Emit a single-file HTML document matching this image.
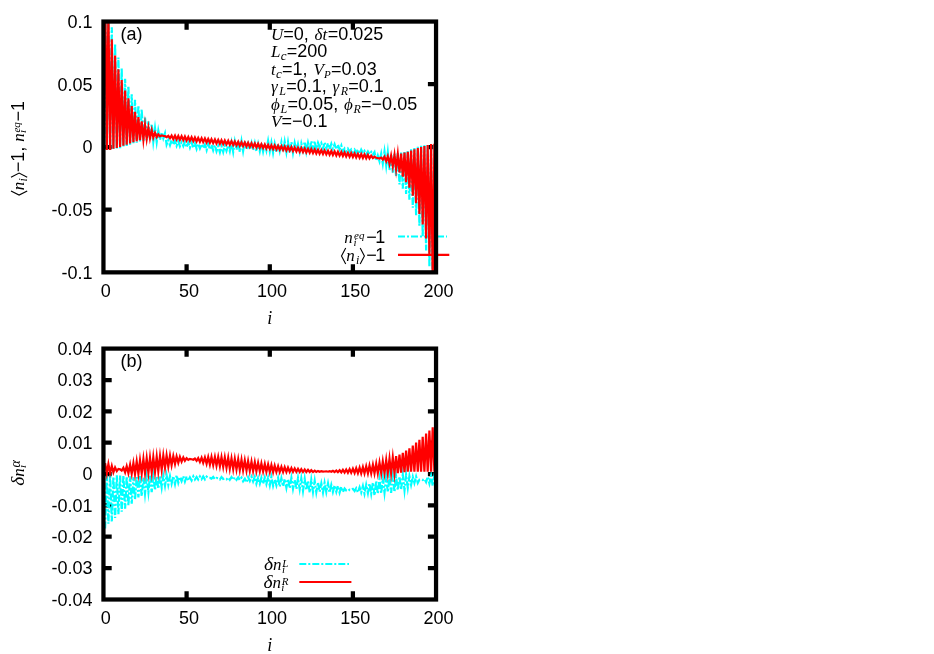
<!DOCTYPE html>
<html><head><meta charset="utf-8"><title>plot</title>
<style>
html,body{margin:0;padding:0;background:#fff;}
body{width:934px;height:654px;overflow:hidden;}
svg{display:block;will-change:transform;}
text{font-family:"Liberation Sans",sans-serif;font-size:18.0px;fill:#000;font-kerning:none;}
.i{font-family:"Liberation Serif",serif;font-style:italic;}
.c{fill:none;stroke-width:2.2;stroke-linejoin:miter;stroke-miterlimit:10;}
.k{fill:none;stroke:#000;stroke-width:4.25;}
.b{fill:none;stroke:#000;stroke-width:1.1;stroke-linejoin:miter;}
</style></head><body>
<svg width="934" height="654" viewBox="0 0 934 654">
<rect x="0" y="0" width="934" height="654" fill="#fff"/>
<defs>
<clipPath id="ca"><rect x="103.45" y="21.55" width="332.6" height="250.8"/></clipPath>
<clipPath id="cb"><rect x="103.45" y="348.6" width="332.6" height="250.85000000000002"/></clipPath>
</defs>
<path class="k" d="M186.6,272.35V264.2M186.6,21.55V29.8M269.8,272.35V264.2M269.8,21.55V29.8M352.9,272.35V264.2M352.9,21.55V29.8M103.45,84.2H111.7M436.05,84.2H427.9M103.45,147.0H111.7M436.05,147.0H427.9M103.45,209.7H111.7M436.05,209.7H427.9"/>
<polyline clip-path="url(#ca)" class="c" points="105.1,-16.1 106.8,149.1 108.4,-0.4 110.1,149.5 111.8,27.3 113.4,149.0 115.1,43.5 116.8,148.6 118.4,57.4 120.1,148.2 121.7,68.1 123.4,147.1 125.1,78.7 126.7,145.9 128.4,86.3 130.1,144.7 131.7,94.2 133.4,143.3 135.0,99.9 136.7,142.6 138.4,105.4 140.0,141.4 141.7,109.4 143.4,140.8 145.0,117.7 146.7,140.2 148.4,121.4 150.0,139.8 151.7,123.8 153.3,141.5 155.0,128.1 156.7,142.0 158.3,130.6 160.0,139.8 161.7,132.3 163.3,138.4 165.0,133.3 166.6,144.6 168.3,140.1 170.0,145.2 171.6,140.0 173.3,144.8 175.0,140.8 176.6,145.8 178.3,141.2 179.9,146.3 181.6,142.2 183.3,146.0 184.9,141.8 186.6,147.4 188.3,142.7 189.9,147.6 191.6,142.4 193.3,148.0 194.9,142.8 196.6,148.9 198.2,143.7 199.9,148.4 201.6,144.3 203.2,148.2 204.9,144.7 206.6,150.2 208.2,144.0 209.9,149.3 211.5,144.8 213.2,150.4 214.9,145.2 216.5,151.2 218.2,146.1 219.9,152.3 221.5,146.2 223.2,152.0 224.8,145.3 226.5,150.9 228.2,145.5 229.8,151.2 231.5,142.3 233.2,152.0 234.8,141.5 236.5,149.8 238.2,141.0 239.8,152.0 241.5,141.1 243.1,151.1 244.8,140.9 246.5,149.6 248.1,143.7 249.8,149.5 251.5,143.0 253.1,150.3 254.8,143.2 256.4,151.2 258.1,143.7 259.8,151.3 261.4,143.3 263.1,151.6 264.8,143.7 266.4,150.4 268.1,140.9 269.8,151.2 271.4,142.6 273.1,153.0 274.7,143.9 276.4,152.5 278.1,143.9 279.7,151.0 281.4,142.1 283.1,152.2 284.7,141.8 286.4,152.3 288.0,142.1 289.7,152.7 291.4,142.1 293.0,152.8 294.7,143.0 296.4,150.8 298.0,144.2 299.7,152.0 301.3,143.4 303.0,150.2 304.7,141.6 306.3,151.7 308.0,142.8 309.7,150.0 311.3,141.1 313.0,148.8 314.7,141.2 316.3,149.4 318.0,142.9 319.6,147.0 321.3,143.1 323.0,148.8 324.6,142.4 326.3,148.3 328.0,143.4 329.6,149.1 331.3,143.9 332.9,148.9 334.6,144.3 336.3,149.3 337.9,144.6 339.6,149.5 341.3,145.4 342.9,151.9 344.6,148.6 346.2,151.4 347.9,148.6 349.6,151.7 351.2,149.5 352.9,152.3 354.6,149.6 356.2,152.7 357.9,149.5 359.6,153.8 361.2,149.8 362.9,153.3 364.5,150.9 366.2,154.4 367.9,151.5 369.5,154.2 371.2,151.9 372.9,154.7 374.5,152.1 376.2,160.7 377.8,155.5 379.5,161.4 381.2,153.7 382.8,163.7 384.5,151.6 386.2,165.7 387.8,152.3 389.5,170.3 391.1,154.1 392.8,172.7 394.5,153.8 396.1,176.6 397.8,153.1 399.5,184.5 401.1,152.5 402.8,188.7 404.5,151.3 406.1,194.0 407.8,150.6 409.4,199.7 411.1,149.2 412.8,207.6 414.4,148.0 416.1,215.2 417.8,146.8 419.4,225.8 421.1,145.7 422.7,236.5 424.4,145.3 426.1,250.4 427.7,144.9 429.4,266.6 431.1,144.4 432.7,294.3 434.4,144.8 436.1,310.0" stroke="#00ffff" stroke-dasharray="7 2 2 2"/>
<path class="c" d="M398,236.5H447" stroke="#00ffff" stroke-dasharray="7 2 2 2"/>
<polyline clip-path="url(#ca)" class="c" points="105.1,-16.1 106.8,150.1 108.4,11.5 110.1,150.0 111.8,39.2 113.4,148.8 115.1,55.4 116.8,148.0 118.4,69.3 120.1,147.0 121.7,80.0 123.4,145.8 125.1,90.6 126.7,144.7 128.4,98.2 130.1,143.4 131.7,106.1 133.4,142.1 135.0,111.8 136.7,141.3 138.4,117.2 140.0,140.2 141.7,121.4 143.4,139.6 145.0,124.9 146.7,138.9 148.4,127.6 150.0,138.2 151.7,130.1 153.3,137.6 155.0,132.7 156.7,137.1 158.3,134.3 160.0,136.3 161.7,135.4 163.3,135.8 165.0,136.1 166.6,137.2 168.3,135.8 170.0,138.2 171.6,135.5 173.3,139.1 175.0,135.6 176.6,139.5 178.3,135.9 179.9,139.8 181.6,136.2 183.3,140.1 184.9,136.5 186.6,140.5 188.3,136.9 189.9,140.8 191.6,137.2 193.3,141.1 194.9,137.5 196.6,141.5 198.2,137.9 199.9,141.8 201.6,138.2 203.2,142.1 204.9,138.5 206.6,142.5 208.2,138.9 209.9,142.8 211.5,139.2 213.2,143.1 214.9,139.5 216.5,143.5 218.2,139.9 219.9,143.8 221.5,140.2 223.2,144.1 224.8,140.5 226.5,144.4 228.2,140.8 229.8,144.8 231.5,141.2 233.2,145.1 234.8,141.5 236.5,145.4 238.2,141.8 239.8,145.8 241.5,142.2 243.1,146.1 244.8,142.5 246.5,146.4 248.1,142.8 249.8,146.8 251.5,143.2 253.1,147.1 254.8,143.5 256.4,147.4 258.1,143.8 259.8,147.8 261.4,144.2 263.1,148.1 264.8,144.5 266.4,148.4 268.1,144.8 269.8,148.7 271.4,145.2 273.1,149.1 274.7,145.5 276.4,149.4 278.1,145.8 279.7,149.7 281.4,146.1 283.1,150.1 284.7,146.5 286.4,150.4 288.0,146.8 289.7,150.7 291.4,147.1 293.0,151.1 294.7,147.5 296.4,151.4 298.0,147.8 299.7,151.7 301.3,148.1 303.0,152.1 304.7,148.5 306.3,152.4 308.0,148.8 309.7,152.7 311.3,149.1 313.0,153.1 314.7,149.5 316.3,153.4 318.0,149.8 319.6,153.7 321.3,150.1 323.0,154.0 324.6,150.4 326.3,154.4 328.0,150.8 329.6,154.7 331.3,151.1 332.9,155.0 334.6,151.4 336.3,155.4 337.9,151.8 339.6,155.7 341.3,152.1 342.9,156.0 344.6,152.4 346.2,156.4 347.9,152.8 349.6,156.7 351.2,153.1 352.9,157.0 354.6,153.4 356.2,157.4 357.9,153.8 359.6,157.7 361.2,154.1 362.9,158.0 364.5,154.4 366.2,158.3 367.9,154.8 369.5,158.4 371.2,155.7 372.9,158.1 374.5,156.7 376.2,157.8 377.8,158.1 379.5,158.5 381.2,157.6 382.8,159.6 384.5,156.8 386.2,161.2 387.8,156.3 389.5,163.8 391.1,155.7 392.8,166.3 394.5,155.0 396.1,169.0 397.8,154.3 399.5,172.5 401.1,153.7 402.8,176.7 404.5,152.6 406.1,182.1 407.8,151.8 409.4,187.8 411.1,150.5 412.8,195.7 414.4,149.2 416.1,203.3 417.8,148.1 419.4,213.9 421.1,147.0 422.7,224.6 424.4,145.9 426.1,238.5 427.7,145.1 429.4,254.7 431.1,143.9 432.7,282.4 434.4,143.8 436.1,310.0" stroke="#ff0000"/>
<path class="c" d="M398,254.8H449.3" stroke="#ff0000"/>
<rect class="k" x="103.45" y="21.55" width="332.6" height="250.8"/>
<path class="k" d="M186.6,599.45V591.2M186.6,348.6V356.8M269.8,599.45V591.2M269.8,348.6V356.8M352.9,599.45V591.2M352.9,348.6V356.8M103.45,380.0H111.7M436.05,380.0H427.9M103.45,411.3H111.7M436.05,411.3H427.9M103.45,442.7H111.7M436.05,442.7H427.9M103.45,474.0H111.7M436.05,474.0H427.9M103.45,505.4H111.7M436.05,505.4H427.9M103.45,536.7H111.7M436.05,536.7H427.9M103.45,568.1H111.7M436.05,568.1H427.9"/>
<polyline clip-path="url(#cb)" class="c" points="105.1,528.5 106.8,475.4 108.4,523.8 110.1,474.9 111.8,521.4 113.4,476.8 115.1,517.9 116.8,475.2 118.4,514.2 120.1,475.6 121.7,511.7 123.4,475.5 125.1,508.8 126.7,476.5 128.4,505.3 130.1,476.2 131.7,503.6 133.4,477.3 135.0,499.7 136.7,477.1 138.4,497.3 140.0,475.4 141.7,496.2 143.4,477.5 145.0,493.5 146.7,477.0 148.4,492.2 150.0,475.5 151.7,492.1 153.3,475.7 155.0,490.0 156.7,476.7 158.3,488.7 160.0,475.6 161.7,487.4 163.3,475.8 165.0,485.6 166.6,475.2 168.3,484.7 170.0,476.1 171.6,483.6 173.3,476.3 175.0,483.9 176.6,475.2 178.3,482.7 179.9,476.9 181.6,481.1 183.3,476.1 184.9,481.6 186.6,476.5 188.3,480.6 189.9,477.4 191.6,480.5 193.3,476.4 194.9,479.5 196.6,477.0 198.2,479.5 199.9,476.5 201.6,479.2 203.2,476.5 204.9,479.4 206.6,476.7 208.2,477.9 209.9,477.9 211.5,478.6 213.2,477.0 214.9,479.2 216.5,477.9 218.2,478.3 219.9,479.5 221.5,477.0 223.2,479.0 224.8,478.5 226.5,479.3 228.2,477.5 229.8,479.8 231.5,477.0 233.2,479.8 234.8,477.4 236.5,479.9 238.2,477.4 239.8,480.1 241.5,477.7 243.1,481.3 244.8,478.8 246.5,482.4 248.1,477.1 249.8,481.0 251.5,476.7 253.1,481.4 254.8,476.7 256.4,483.7 258.1,477.8 259.8,483.7 261.4,477.7 263.1,483.9 264.8,477.4 266.4,484.0 268.1,477.5 269.8,485.3 271.4,476.9 273.1,485.8 274.7,479.7 276.4,485.4 278.1,478.1 279.7,486.6 281.4,478.3 283.1,486.4 284.7,478.9 286.4,487.7 288.0,478.9 289.7,488.2 291.4,478.1 293.0,488.8 294.7,479.9 296.4,488.9 298.0,478.2 299.7,489.1 301.3,478.6 303.0,490.8 304.7,479.0 306.3,490.1 308.0,480.8 309.7,492.6 311.3,480.0 313.0,491.9 314.7,480.8 316.3,492.1 318.0,482.4 319.6,491.8 321.3,483.4 323.0,492.5 324.6,482.9 326.3,492.1 328.0,483.5 329.6,492.6 331.3,485.0 332.9,491.9 334.6,485.4 336.3,491.7 337.9,485.8 339.6,492.6 341.3,486.8 342.9,492.1 344.6,488.5 346.2,490.5 347.9,491.2 349.6,489.6 351.2,490.0 352.9,488.9 354.6,491.0 356.2,488.3 357.9,492.4 359.6,487.3 361.2,492.5 362.9,486.0 364.5,493.7 366.2,484.9 367.9,493.0 369.5,483.5 371.2,493.8 372.9,482.6 374.5,495.4 376.2,481.1 377.8,493.7 379.5,479.1 381.2,493.3 382.8,477.9 384.5,492.6 386.2,477.0 387.8,492.2 389.5,476.2 391.1,492.9 392.8,476.2 394.5,491.9 396.1,476.4 397.8,490.1 399.5,476.6 401.1,489.8 402.8,474.7 404.5,490.3 406.1,474.9 407.8,487.6 409.4,476.2 411.1,484.8 412.8,476.8 414.4,483.0 416.1,476.5 417.8,482.9 419.4,479.8 421.1,479.5 422.7,480.1 424.4,478.9 426.1,482.1 427.7,476.7 429.4,483.4 431.1,475.7 432.7,485.9 434.4,475.8 436.1,485.9" stroke="#00ffff" stroke-dasharray="7 2 2 2"/>
<path class="c" d="M299.3,564H349" stroke="#00ffff" stroke-dasharray="7 2 2 2"/>
<polyline clip-path="url(#cb)" class="c" points="105.1,463.1 106.8,473.5 108.4,464.0 110.1,473.0 111.8,465.9 113.4,472.4 115.1,467.5 116.8,471.1 118.4,468.9 120.1,469.3 121.7,470.6 123.4,467.8 125.1,472.3 126.7,466.2 128.4,473.1 130.1,464.7 131.7,473.7 133.4,463.0 135.0,474.0 136.7,461.4 138.4,473.8 140.0,460.2 141.7,473.5 143.4,459.1 145.0,473.1 146.7,458.3 148.4,472.7 150.0,457.8 151.7,472.4 153.3,457.3 155.0,472.0 156.7,456.7 158.3,471.2 160.0,456.0 161.7,469.6 163.3,455.5 165.0,467.9 166.6,455.4 168.3,466.5 170.0,455.6 171.6,465.2 173.3,456.0 175.0,463.9 176.6,456.4 178.3,462.7 179.9,456.9 181.6,461.6 183.3,457.4 184.9,460.7 186.6,458.2 188.3,459.9 189.9,458.9 191.6,459.2 193.3,459.7 194.9,458.5 196.6,460.8 198.2,458.1 199.9,461.9 201.6,457.7 203.2,462.8 204.9,457.4 206.6,463.7 208.2,457.1 209.9,464.6 211.5,457.0 213.2,465.2 214.9,457.0 216.5,465.7 218.2,457.0 219.9,466.3 221.5,457.1 223.2,466.9 224.8,457.4 226.5,467.8 228.2,457.8 229.8,468.6 231.5,458.3 233.2,469.1 234.8,458.8 236.5,469.5 238.2,459.3 239.8,469.9 241.5,459.8 243.1,470.3 244.8,460.4 246.5,470.6 248.1,461.0 249.8,470.9 251.5,461.6 253.1,471.1 254.8,462.2 256.4,471.3 258.1,462.8 259.8,471.4 261.4,463.4 263.1,471.6 264.8,464.0 266.4,471.9 268.1,464.5 269.8,472.1 271.4,465.1 273.1,472.1 274.7,465.7 276.4,472.0 278.1,466.3 279.7,472.0 281.4,466.8 283.1,472.0 284.7,467.2 286.4,472.0 288.0,467.6 289.7,471.9 291.4,468.0 293.0,471.9 294.7,468.4 296.4,471.9 298.0,468.8 299.7,472.0 301.3,469.1 303.0,472.0 304.7,469.5 306.3,472.0 308.0,469.8 309.7,472.0 311.3,470.2 313.0,472.0 314.7,470.6 316.3,471.9 318.0,470.9 319.6,471.7 321.3,471.2 323.0,471.6 324.6,471.5 326.3,471.3 328.0,471.7 329.6,471.1 331.3,471.8 332.9,470.8 334.6,472.0 336.3,470.5 337.9,472.2 339.6,470.2 341.3,472.3 342.9,469.8 344.6,472.5 346.2,469.5 347.9,472.7 349.6,469.1 351.2,472.8 352.9,468.7 354.6,473.0 356.2,468.2 357.9,473.2 359.6,467.7 361.2,473.3 362.9,467.1 364.5,473.4 366.2,466.3 367.9,473.4 369.5,465.5 371.2,473.3 372.9,464.8 374.5,473.3 376.2,463.8 377.8,473.3 379.5,462.6 381.2,473.2 382.8,461.4 384.5,473.1 386.2,460.1 387.8,473.1 389.5,458.7 391.1,473.1 392.8,457.5 394.5,473.1 396.1,456.2 397.8,473.1 399.5,454.7 401.1,472.6 402.8,452.8 404.5,472.1 406.1,450.7 407.8,471.7 409.4,448.3 411.1,471.7 412.8,445.5 414.4,471.8 416.1,442.6 417.8,471.8 419.4,439.7 421.1,471.8 422.7,436.7 424.4,471.8 426.1,433.6 427.7,471.8 429.4,430.5 431.1,471.8 432.7,427.3 434.4,471.8 436.1,424.2" stroke="#ff0000"/>
<path class="c" d="M299.3,582H351.4" stroke="#ff0000"/>
<rect class="k" x="103.45" y="348.6" width="332.6" height="250.9"/>
<text x="92.6" y="27.9" text-anchor="end">0.1</text>
<text x="92.6" y="90.5" text-anchor="end">0.05</text>
<text x="92.6" y="153.3" text-anchor="end">0</text>
<text x="92.6" y="216.0" text-anchor="end">-0.05</text>
<text x="92.6" y="278.7" text-anchor="end">-0.1</text>
<text x="92.6" y="354.9" text-anchor="end">0.04</text>
<text x="92.6" y="386.3" text-anchor="end">0.03</text>
<text x="92.6" y="417.6" text-anchor="end">0.02</text>
<text x="92.6" y="449.0" text-anchor="end">0.01</text>
<text x="92.6" y="480.3" text-anchor="end">0</text>
<text x="92.6" y="511.7" text-anchor="end">-0.01</text>
<text x="92.6" y="543.0" text-anchor="end">-0.02</text>
<text x="92.6" y="574.4" text-anchor="end">-0.03</text>
<text x="92.6" y="605.8" text-anchor="end">-0.04</text>
<text x="105.8" y="297.3" text-anchor="middle">0</text>
<text x="105.8" y="624.3" text-anchor="middle">0</text>
<text x="188.9" y="297.3" text-anchor="middle">50</text>
<text x="188.9" y="624.3" text-anchor="middle">50</text>
<text x="272.1" y="297.3" text-anchor="middle">100</text>
<text x="272.1" y="624.3" text-anchor="middle">100</text>
<text x="355.2" y="297.3" text-anchor="middle">150</text>
<text x="355.2" y="624.3" text-anchor="middle">150</text>
<text x="438.4" y="297.3" text-anchor="middle">200</text>
<text x="438.4" y="624.3" text-anchor="middle">200</text>
<text class="i" x="269.8" y="324.2" text-anchor="middle">i</text>
<text class="i" x="269.8" y="651.2" text-anchor="middle">i</text>
<text x="120.5" y="40.2">(a)</text>
<text x="120.5" y="366.9">(b)</text>
<g transform="translate(271.0,39.6)"><text class="i" style="font-size:17.0px" x="0.0" y="0.0">U</text><text x="12.3" y="0.0">=0, </text><text class="i" style="font-size:17.0px" x="43.6" y="0.0">δt</text><text x="56.8" y="0.0">=0.025</text></g>
<g transform="translate(271.0,57.2)"><text class="i" style="font-size:17.0px" x="0.0" y="0.0">L</text><text class="i" style="font-size:13px" x="9.8" y="3.0">c</text><text x="15.8" y="0.0">=200</text></g>
<g transform="translate(271.0,74.7)"><text class="i" style="font-size:17.0px" x="0.0" y="0.0">t</text><text class="i" style="font-size:13px" x="5.0" y="3.0">c</text><text x="11.1" y="0.0">=1, </text><text class="i" style="font-size:17.0px" x="42.4" y="0.0">V</text><text class="i" style="font-size:11px" x="53.1" y="3.0">P</text><text x="60.1" y="0.0">=0.03</text></g>
<g transform="translate(271.0,92.3)"><text class="i" style="font-size:17.0px" x="0.0" y="0.0">γ</text><text class="i" style="font-size:12.0px" x="8.2" y="3.0">L</text><text x="15.2" y="0.0">=0.1, </text><text class="i" style="font-size:17.0px" x="61.5" y="0.0">γ</text><text class="i" style="font-size:12.0px" x="69.7" y="3.0">R</text><text x="77.3" y="0.0">=0.1</text></g>
<g transform="translate(271.0,109.8)"><text class="i" style="font-size:17.0px" x="0.0" y="0.0">ϕ</text><text class="i" style="font-size:12.0px" x="9.6" y="3.0">L</text><text x="16.6" y="0.0">=0.05, </text><text class="i" style="font-size:17.0px" x="72.9" y="0.0">ϕ</text><text class="i" style="font-size:12.0px" x="82.5" y="3.0">R</text><text x="90.1" y="0.0">=−0.05</text></g>
<g transform="translate(271.0,127.4)"><text class="i" style="font-size:17.0px" x="0.0" y="0.0">V</text><text x="10.4" y="0.0">=−0.1</text></g>
<g transform="translate(385.2,242.9)"><text class="i" style="font-size:17.0px" x="-41.0" y="0.0">n</text><text class="i" style="font-size:11.0px" x="-31.6" y="2.6">i</text><text class="i" style="font-size:11.0px" x="-31.2" y="-3.7">eq</text><text x="-19.0" y="0.0">−</text><text x="-10.0" y="0.0">1</text></g>
<g transform="translate(385.2,260.7)"><path class="b" d="M-39.5,-12.8L-43.7,-4.7L-39.5,3.4"/><text class="i" style="font-size:17.0px" x="-38.9" y="0.0">n</text><text class="i" style="font-size:12.0px" x="-29.3" y="3.0">i</text><path class="b" d="M-25.0,-12.8L-20.8,-4.7L-25.0,3.4"/><text x="-19.0" y="0.0">−</text><text x="-10.0" y="0.0">1</text></g>
<g transform="translate(289.2,570.2)"><text class="i" style="font-size:19.5px" x="-25.2" y="0.0">δ</text><text class="i" style="font-size:17.0px" x="-16.1" y="0.0">n</text><text class="i" style="font-size:11.0px" x="-7.3" y="2.6">i</text><text class="i" style="font-size:11.0px" x="-6.9" y="-3.7">L</text></g>
<g transform="translate(289.2,588.2)"><text class="i" style="font-size:19.5px" x="-25.8" y="0.0">δ</text><text class="i" style="font-size:17.0px" x="-16.7" y="0.0">n</text><text class="i" style="font-size:11.0px" x="-7.9" y="2.6">i</text><text class="i" style="font-size:11.0px" x="-7.5" y="-3.7">R</text></g>
<g transform="translate(23.8,148.4) rotate(-90)"><path class="b" d="M-42.5,-12.8L-46.7,-4.7L-42.5,3.4"/><text class="i" style="font-size:17.0px" x="-41.9" y="0.0">n</text><text class="i" style="font-size:12.0px" x="-33.1" y="3.0">i</text><path class="b" d="M-28.9,-12.8L-24.7,-4.7L-28.9,3.4"/><text x="-23.9" y="0.0">−1, </text><text class="i" style="font-size:17.0px" x="6.6" y="0.0">n</text><text class="i" style="font-size:11.0px" x="15.4" y="2.6">i</text><text class="i" style="font-size:11.0px" x="15.8" y="-3.7">eq</text><text x="27.0" y="0.0">−1</text></g>
<g transform="translate(23.8,472.6) rotate(-90)"><text class="i" style="font-size:19.5px" x="-13.2" y="0.0">δ</text><text class="i" style="font-size:17.0px" x="-4.1" y="0.0">n</text><text class="i" style="font-size:11.0px" x="4.7" y="2.6">i</text><text class="i" style="font-size:14px" x="5.1" y="-3.7">α</text></g>
</svg></body></html>
